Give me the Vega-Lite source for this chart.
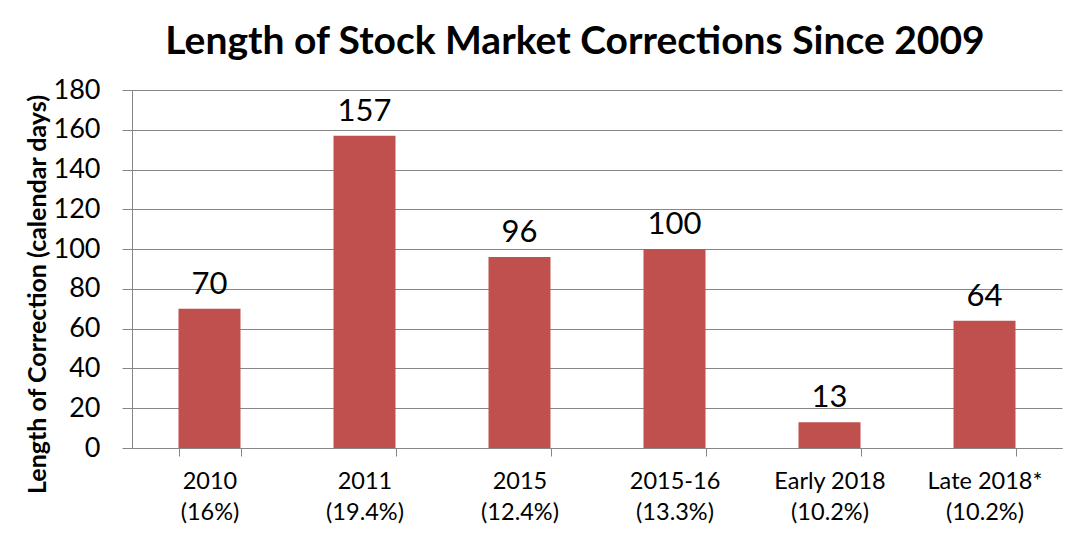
{
  "$schema": "https://vega.github.io/schema/vega-lite/v6.json",
  "width": 930,
  "height": 358,
  "autosize": {"type": "none"},
  "padding": {"left": 132, "top": 90, "right": 16, "bottom": 92},
  "background": "white",
  "title": {
    "text": "Length of Stock Market Corrections Since 2009",
    "font": "Lato",
    "fontSize": 39,
    "fontWeight": "bold",
    "color": "black",
    "anchor": "middle",
    "baseline": "alphabetic",
    "offset": -17,
    "dx": -22
  },
  "data": {
    "values": [
      {"period": "2010|(16%)", "days": 70},
      {"period": "2011|(19.4%)", "days": 157},
      {"period": "2015|(12.4%)", "days": 96},
      {"period": "2015-16|(13.3%)", "days": 100},
      {"period": "Early 2018|(10.2%)", "days": 13},
      {"period": "Late 2018*|(10.2%)", "days": 64}
    ]
  },
  "encoding": {
    "x": {
      "field": "period",
      "type": "nominal",
      "sort": null,
      "scale": {"paddingInner": 0.6, "paddingOuter": 0.3},
      "axis": {
        "title": null,
        "labelAngle": 0,
        "labelExpr": "split(datum.label, '|')",
        "labelFontSize": 23.5,
        "labelLineHeight": 31,
        "labelPadding": 13,
        "tickBand": "extent",
        "tickSize": 8,
        "grid": false
      }
    },
    "y": {
      "field": "days",
      "type": "quantitative",
      "scale": {"domain": [0, 180], "nice": false},
      "axis": {
        "title": "Length of Correction (calendar days)",
        "values": [0, 20, 40, 60, 80, 100, 120, 140, 160, 180],
        "labelFontSize": 27,
        "labelPadding": 22,
        "tickSize": 10,
        "titleFontSize": 25,
        "titleFontWeight": "bold",
        "titleAngle": 270,
        "titleAlign": "center",
        "titleBaseline": "middle",
        "titleX": -95,
        "titleY": 204
      }
    }
  },
  "layer": [
    {"mark": {"type": "bar", "color": "#C0504D"}},
    {
      "mark": {
        "type": "text",
        "fontSize": 31,
        "font": "Lato",
        "color": "black",
        "baseline": "alphabetic",
        "dy": -15
      },
      "encoding": {"text": {"field": "days", "type": "quantitative"}}
    }
  ],
  "config": {
    "view": {"stroke": null},
    "axis": {
      "labelFont": "Lato",
      "titleFont": "Lato",
      "labelColor": "black",
      "titleColor": "black",
      "domainColor": "#868686",
      "tickColor": "#868686",
      "gridColor": "#868686",
      "gridOpacity": 1,
      "domainWidth": 1,
      "tickWidth": 1
    }
  }
}
